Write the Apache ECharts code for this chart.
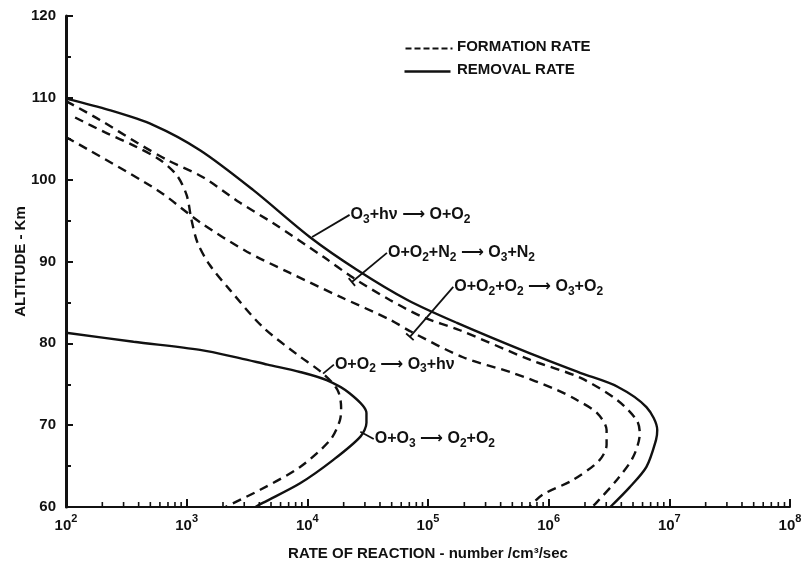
<!DOCTYPE html>
<html>
<head>
<meta charset="utf-8">
<script src="https://cdn.jsdelivr.net/npm/echarts@6/dist/echarts.min.js"></script>
<style>
html,body{margin:0;padding:0;background:#fff;}
#chart{width:806px;height:561px;}
</style>
</head>
<body>
<div id="chart"></div>
<script>
// ---- data: [rate (number/cm3/sec), altitude (km)] ----
const removalO3hv = [[100,109.9],[229,108.5],[525,106.7],[1290,103.6],[3550,98.75],[10470,93.0],[25700,89.0],[67600,85.3],[173800,82.5],[692000,78.8],[1820000,76.4],[3720000,74.7],[6460000,72.2],[7940000,69.4],[7760000,68.2],[6460000,64.9],[4680000,62.4],[3240000,60]];
const formationN2 = [[100,109.6],[191,107.3],[389,104.5],[692,102.4],[1365,100.3],[2754,97.2],[5190,94.7],[13490,90.6],[23990,88.0],[48300,85.3],[91200,83.2],[183700,81.6],[698000,78.0],[1820000,75.8],[3670000,73.1],[5370000,70.6],[5690000,69.0],[5010000,66.1],[3670000,63.3],[2512000,60.6],[2290000,60]];
const formationO2 = [[100,105.2],[568,98.75],[1288,94.8],[3162,91.2],[7178,88.6],[18620,85.7],[48300,82.9],[70800,81.5],[195000,78.3],[501000,76.4],[1175000,74.3],[1700000,73.1],[2512000,71.5],[3020000,69.4],[3020000,67.6],[2630000,65.7],[1585000,63.3],[891000,61.5],[692000,60]];
const formationO2hv = [[119,107.6],[209,105.8],[372,104.1],[603,102.4],[832,100.5],[1000,98.1],[1096,95.1],[1230,92.3],[1549,89.6],[2290,86.5],[4266,82.0],[8128,78.7],[13490,76.3],[17780,74.3],[19050,72.2],[18620,70.6],[15490,68.2],[8710,64.9],[4070,62.1],[2090,60]];
const removalO3 = [[100,81.3],[363,80.2],[1290,79.2],[2750,78.2],[4680,77.4],[8710,76.5],[14450,75.5],[22390,73.9],[30900,71.5],[30900,70.3],[27540,68.6],[16220,65.7],[8710,62.9],[4270,60.5],[3720,60]];

const xExponents = [2,3,4,5,6,7,8];
const legendNames = ['FORMATION RATE','REMOVAL RATE'];

// reaction labels: leader from -> to (data coords); text starts at "to"
const reactionLabels = [
  {text:'O{s|3}+hν ⟶ O+O{s|2}', from:[10960,93.0], to:[22400,95.7], tick:false},
  {text:'O+O{s|2}+N{s|2} ⟶ O{s|3}+N{s|2}', from:[23400,87.5], to:[45700,91.05], tick:true},
  {text:'O+O{s|2}+O{s|2} ⟶ O{s|3}+O{s|2}', from:[70800,80.8], to:[162000,86.9], tick:true},
  {text:'O+O{s|2} ⟶ O{s|3}+hν', from:[13500,76.3], to:[16600,77.4], tick:false},
  {text:'O+O{s|3} ⟶ O{s|2}+O{s|2}', from:[27500,69.2], to:[35500,68.3], tick:false}
];

const FONT = '"Liberation Sans", "DejaVu Sans", sans-serif';
const INK = '#111';

// minor tick values on the log axis (2..9 in each decade)
const minorTicks = [];
for (let i = 0; i < xExponents.length - 1; i++) {
  for (let m = 2; m <= 9; m++) minorTicks.push([m * Math.pow(10, xExponents[i]), 60]);
}

function curve(name, data, dashed) {
  return {
    type:'line', name:name, data:data, smooth:0.3, symbol:'none', z:3,
    lineStyle:{color:INK, width:2.4, type: dashed ? [9,6] : 'solid'},
    emphasis:{disabled:true}, silent:true
  };
}

const labelRich = {
  n:{fontFamily:FONT, fontWeight:'bold', fontSize:16, color:INK, lineHeight:21, verticalAlign:'middle'},
  s:{fontFamily:FONT, fontWeight:'bold', fontSize:12, color:INK, lineHeight:12, verticalAlign:'bottom'}
};
function wrapText(t){
  return t.split(/(\{s\|[^}]*\})/).map(function(p){
    if (!p) return '';
    return p.charAt(0) === '{' ? p : '{n|' + p + '}';
  }).join('');
}

const chart = echarts.init(document.getElementById('chart'), null, {renderer:'canvas'});
chart.setOption({
  backgroundColor:'#fff',
  animation:false,
  grid:{left:66, right:16, top:16, bottom:54, containLabel:false, outerBoundsMode:'none'},
  graphic:[
    {type:'line', left:403, top:46, shape:{x1:0, y1:0, x2:47, y2:0}, style:{stroke:INK, lineWidth:2.2, lineDash:[6,3]}},
    {type:'text', left:457, top:39, style:{text:legendNames[0], font:'bold 15px ' + FONT, fill:INK}},
    {type:'line', left:402, top:69, shape:{x1:0, y1:0, x2:46, y2:0}, style:{stroke:INK, lineWidth:2.4}},
    {type:'text', left:457, top:62, style:{text:legendNames[1], font:'bold 15px ' + FONT, fill:INK}}
  ],
  xAxis:{
    type:'log', logBase:10, min:100, max:1e8, splitNumber:6,
    name:'RATE OF REACTION - number /cm³/sec', nameLocation:'middle', nameGap:39,
    nameTextStyle:{fontFamily:FONT, fontWeight:'bold', fontSize:15, color:INK},
    axisLine:{lineStyle:{color:INK, width:2}},
    axisTick:{inside:true, length:8, lineStyle:{color:INK, width:2}},
    splitLine:{show:false},
    axisLabel:{
      margin:6, color:INK,
      formatter:function(v){ return '{b|10}{sup|' + Math.round(Math.log10(v)) + '}'; },
      rich:{
        b:{fontFamily:FONT, fontSize:15, fontWeight:'bold', color:INK, lineHeight:20, verticalAlign:'bottom'},
        sup:{fontFamily:FONT, fontSize:11, fontWeight:'bold', color:INK, lineHeight:20, verticalAlign:'top'}
      }
    }
  },
  yAxis:{
    type:'value', min:60, max:120, interval:10,
    name:'ALTITUDE - Km', nameLocation:'middle', nameGap:38, nameRotate:90, nameMoveOverlap:false,
    nameTextStyle:{fontFamily:FONT, fontWeight:'bold', fontSize:15, color:INK},
    axisLine:{lineStyle:{color:INK, width:3}},
    axisTick:{inside:true, length:7, lineStyle:{color:INK, width:2}},
    minorTick:{show:true, splitNumber:2, length:5, lineStyle:{color:INK, width:2}},
    splitLine:{show:false},
    axisLabel:{margin:10, fontFamily:FONT, fontWeight:'bold', fontSize:15, color:INK}
  },
  series:[
    curve('O3+hv removal', removalO3hv, false),
    curve('O+O2+N2 formation', formationN2, true),
    curve('O+O2+O2 formation', formationO2, true),
    curve('O+O2 -> O3+hv formation', formationO2hv, true),
    curve('O+O3 removal', removalO3, false),
    {
      type:'custom', name:'minorTicks', data:minorTicks, silent:true, clip:false, z:4,
      renderItem:function(params, api){
        const p = api.coord([api.value(0), api.value(1)]);
        return {type:'line', shape:{x1:p[0], y1:p[1], x2:p[0], y2:p[1]-5}, style:{stroke:INK, lineWidth:1.6}};
      }
    },
    {
      type:'custom', name:'labels', data:reactionLabels.map(function(d,i){return [i];}), silent:true, clip:false, z:5,
      renderItem:function(params, api){
        const d = reactionLabels[api.value(0)];
        const a = api.coord(d.from), b = api.coord(d.to);
        const children = [
          {type:'line', shape:{x1:a[0], y1:a[1], x2:b[0], y2:b[1]}, style:{stroke:INK, lineWidth:1.8}},
          {type:'text', x:b[0]+1, y:b[1], style:{text:wrapText(d.text), rich:labelRich, textAlign:'left', textVerticalAlign:'middle', verticalAlign:'middle', fill:INK}}
        ];
        if (d.tick) {
          const dx = b[0]-a[0], dy = b[1]-a[1], L = Math.sqrt(dx*dx+dy*dy);
          const nx = -dy/L*5, ny = dx/L*5;
          children.push({type:'line', shape:{x1:a[0]-nx, y1:a[1]-ny, x2:a[0]+nx, y2:a[1]+ny}, style:{stroke:INK, lineWidth:1.8}});
        }
        return {type:'group', children:children};
      }
    }
  ]
});
</script>
</body>
</html>
